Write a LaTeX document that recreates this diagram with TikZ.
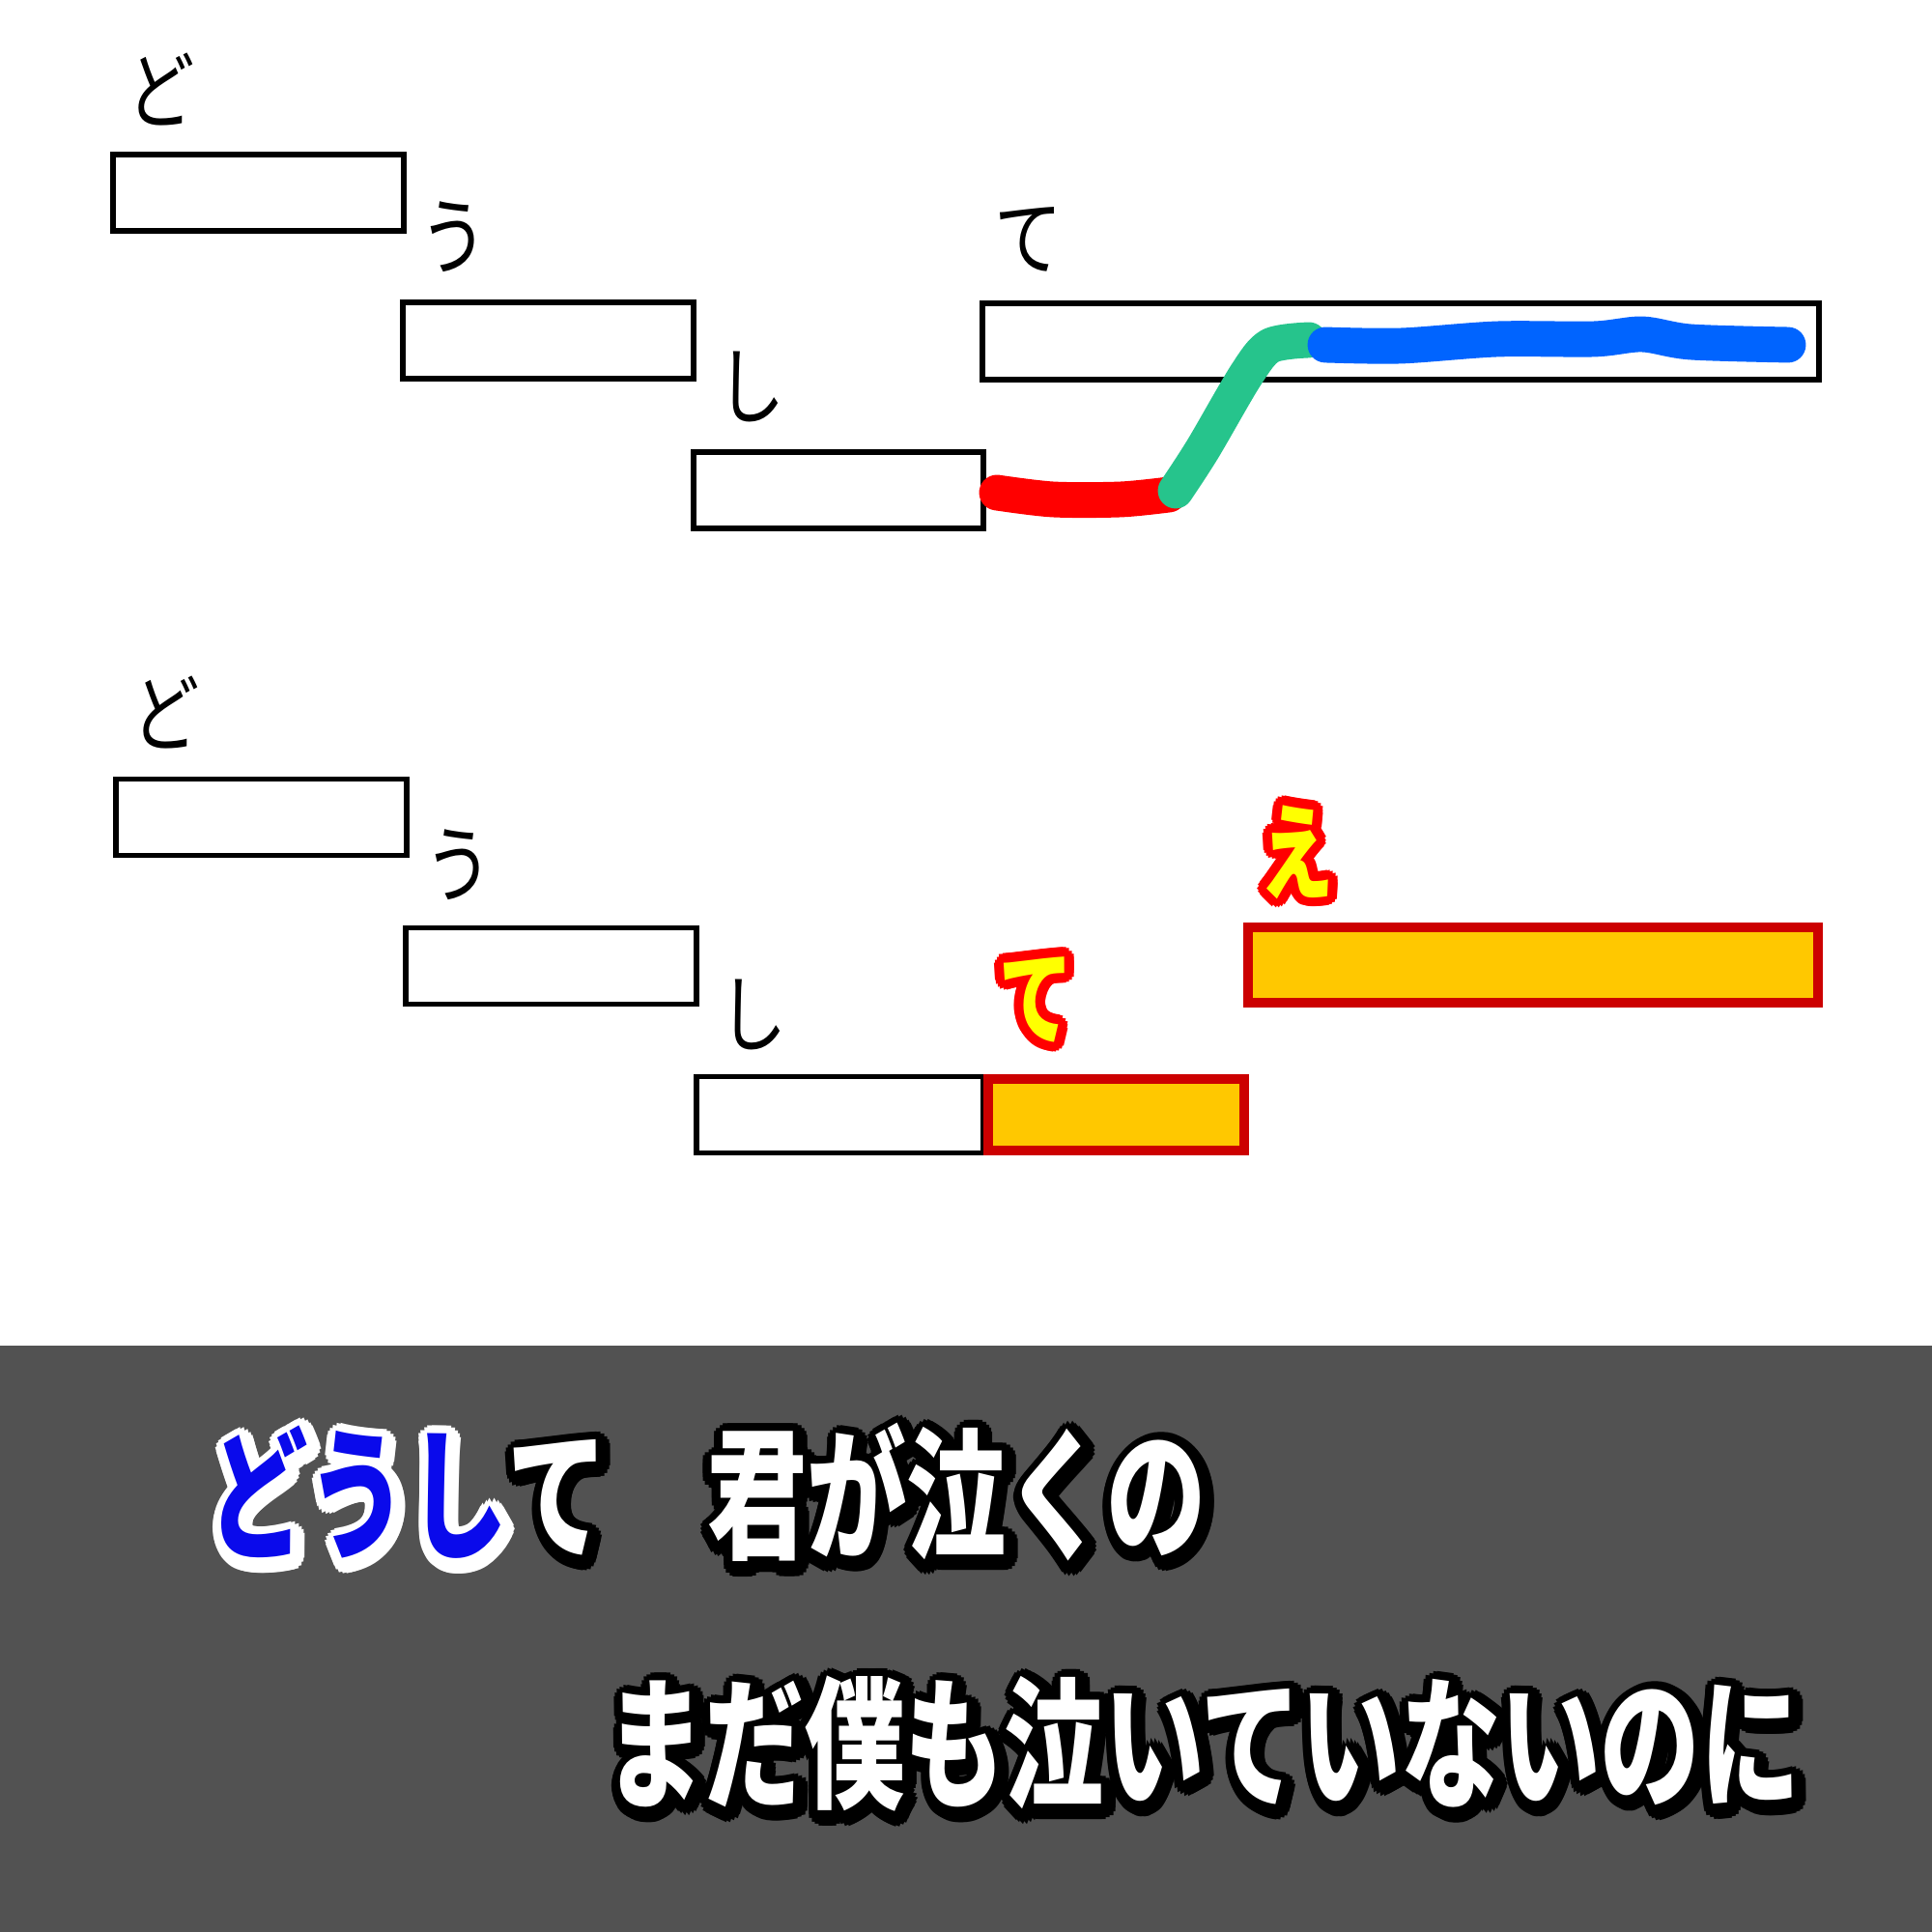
\documentclass[tikz,border=0pt]{standalone}
\usepackage{fontspec}
\newfontfamily\jp{Noto Sans CJK JP}
\usetikzlibrary{positioning}

\definecolor{bandgray}{RGB}{82,82,82}
\definecolor{barfill}{RGB}{255,200,0}
\definecolor{barred}{RGB}{204,0,0}
\definecolor{inkred}{RGB}{255,0,0}
\definecolor{inkgreen}{RGB}{38,196,140}
\definecolor{inkblue}{RGB}{0,100,255}
\definecolor{kanayellow}{RGB}{255,255,0}
\definecolor{lyricblue}{RGB}{10,10,235}

% copies of a text round a point, to make a rim
\newcommand{\rimcopies}[4]{%
  \foreach \ang in {0,20,...,340}
    \node[#3] at ([shift={(\ang:#2)}]#1) {#4};
}

\begin{document}
\begin{tikzpicture}[
    bar/.style={draw, line width=1.7pt, minimum height=0.79cm, inner sep=0pt, outer sep=0pt},
    hotbar/.style={draw=barred, fill=barfill, line width=2.8pt, inner sep=0pt, outer sep=0pt},
    kana/.style={font=\jp\fontsize{25}{25}\selectfont, inner sep=0pt},
    hotkana/.style={font=\jp\bfseries\fontsize{31}{31}\selectfont, inner sep=0pt},
    lyric/.style={font=\jp\bfseries\fontsize{42}{42}\selectfont, inner sep=0pt},
    ink/.style={line width=10.5pt, line cap=round, line join=round},
  ]
        \useasboundingbox (0,0) rectangle (20,20);

        % Band for the lyrics
        \fill[bandgray] (0,0) rectangle (20,6.07);

        % Stairs, first take
        \node[bar, minimum width=3.01cm] (do1) at (2.675,18.0) {};
        \node[bar, minimum width=3.01cm] (u1) at (5.675,16.47) {};
        \node[bar, minimum width=3.00cm] (shi1) at (8.68,14.925) {};
        \node[bar, minimum width=8.66cm] (te1) at (14.5,16.465) {};
        \node[kana] (do1l) at (1.67,19.07) {\scalebox{0.8}[1]{ど}};
        \node[kana] (u1l) at (4.70,17.55) {\scalebox{0.8}[1]{う}};
        \node[kana] (shi1l) at (7.78,16.00) {\scalebox{0.8}[1]{し}};
        \node[kana] (te1l) at (10.65,17.52) {\scalebox{0.8}[1]{て}};

        % Pitch line drawn over it
        \draw[ink, inkred] plot[smooth] coordinates {(10.32,14.90) (10.9,14.83) (11.6,14.83) (12.1,14.88)};
        \draw[ink, inkgreen] plot[smooth] coordinates {(12.17,14.92) (12.45,15.35) (12.9,16.12) (13.15,16.42) (13.55,16.48)};
        \draw[ink, inkblue] plot[smooth] coordinates {(13.72,16.43) (14.5,16.42) (15.5,16.49) (16.5,16.49) (17.0,16.54) (17.5,16.46) (18.51,16.43)};

        % Stairs, second take
        \node[bar, minimum width=3.01cm] (do2) at (2.705,11.54) {};
        \node[bar, minimum width=3.01cm] (u2) at (5.705,10.0) {};
        \node[bar, minimum width=2.97cm] (shi2) at (8.695,8.46) {};
        \node[hotbar, minimum width=2.65cm, minimum height=0.74cm] (te2) at (11.555,8.46) {};
        \node[hotbar, minimum width=5.9cm, minimum height=0.78cm] (e2) at (15.87,10.01) {};
        \node[kana] (do2l) at (1.72,12.62) {\scalebox{0.8}[1]{ど}};
        \node[kana] (u2l) at (4.75,11.05) {\scalebox{0.8}[1]{う}};
        \node[kana] (shi2l) at (7.80,9.50) {\scalebox{0.8}[1]{し}};

        \coordinate (te2c) at (10.73,9.65);
        \coordinate (e2c) at (13.43,11.18);
        \rimcopies{te2c}{0.1}{hotkana, text=inkred}{\scalebox{0.7}[1]{て}}
        \rimcopies{te2c}{0.05}{hotkana, text=inkred}{\scalebox{0.7}[1]{て}}
        \node[hotkana, text=kanayellow] (te2l) at (te2c) {\scalebox{0.7}[1]{て}};
        \rimcopies{e2c}{0.1}{hotkana, text=inkred}{\scalebox{0.7}[1]{え}}
        \rimcopies{e2c}{0.05}{hotkana, text=inkred}{\scalebox{0.7}[1]{え}}
        \node[hotkana, text=kanayellow] (e2l) at (e2c) {\scalebox{0.7}[1]{え}};

        % Lyrics
        \coordinate (line1) at (7.32,4.55);
        \coordinate (line1s) at (7.35,4.51);
        \coordinate (line2) at (12.45,1.95);
        \coordinate (line2s) at (12.48,1.91);
        \rimcopies{line1s}{0.12}{lyric}{\scalebox{0.7}[1]{\color{white}どうし\color{black}て　君が泣くの}}
        \rimcopies{line1s}{0.06}{lyric}{\scalebox{0.7}[1]{\color{white}どうし\color{black}て　君が泣くの}}
        \node[lyric] (lyric1) at (line1) {\scalebox{0.7}[1]{\color{lyricblue}どうし\color{white}て　君が泣くの}};
        \rimcopies{line2s}{0.12}{lyric, text=black}{\scalebox{0.7}[1]{まだ僕も泣いていないのに}}
        \rimcopies{line2s}{0.06}{lyric, text=black}{\scalebox{0.7}[1]{まだ僕も泣いていないのに}}
        \node[lyric, text=white] (lyric2) at (line2) {\scalebox{0.7}[1]{まだ僕も泣いていないのに}};
    \end{tikzpicture}
\end{document}
